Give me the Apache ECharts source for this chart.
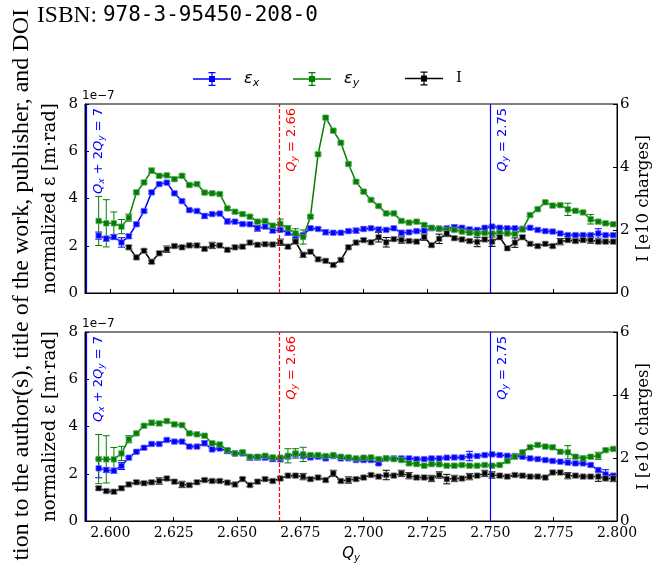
<!DOCTYPE html>
<html>
<head>
<meta charset="utf-8">
<script src="https://cdn.jsdelivr.net/npm/echarts@6/dist/echarts.min.js"></script>
<style>
  html, body { margin: 0; padding: 0; background: #fff; }
  #chart { width: 661px; height: 563px; }
</style>
</head>
<body>
<div id="chart"></div>
<script>
// Vertical tune Q_y of each measurement point (shared by both panels)
const qy = [
  2.5954, 2.5984, 2.6014, 2.6044, 2.6073, 2.6103, 2.6133, 2.6163, 2.6193, 2.6223,
  2.6253, 2.6283, 2.6312, 2.6342, 2.6372, 2.6402, 2.6432, 2.6462, 2.6492, 2.6522,
  2.6551, 2.6581, 2.6611, 2.6641, 2.6671, 2.6701, 2.6731, 2.6761, 2.6790, 2.6820,
  2.6850, 2.6880, 2.6910, 2.6940, 2.6970, 2.7000, 2.7029, 2.7059, 2.7089, 2.7119,
  2.7149, 2.7179, 2.7209, 2.7239, 2.7268, 2.7298, 2.7328, 2.7358, 2.7388, 2.7418,
  2.7448, 2.7478, 2.7507, 2.7537, 2.7567, 2.7597, 2.7627, 2.7657, 2.7687, 2.7717,
  2.7746, 2.7776, 2.7806, 2.7836, 2.7866, 2.7896, 2.7926, 2.7955, 2.7985
];

// Axis tick values
const xTicks = [2.600, 2.625, 2.650, 2.675, 2.700, 2.725, 2.750, 2.775, 2.800];
const epsRange = [0, 8];      // normalized emittance, units of 1e-7 m·rad
const chargeRange = [0, 6];   // bunch intensity, units of 1e10 charges

// Upper panel: emittances (1e-7 m·rad) and intensity (1e10 charges)
const epsXTop = [
  2.43, 2.30, 2.37, 2.14, 2.40, 2.91, 3.47, 4.26, 4.61, 4.67,
  4.22, 3.89, 3.51, 3.47, 3.26, 3.34, 3.36, 3.03, 3.02, 2.92,
  2.91, 2.74, 2.81, 2.64, 2.67, 2.55, 2.41, 2.45, 2.74, 2.71,
  2.57, 2.55, 2.55, 2.62, 2.64, 2.71, 2.74, 2.69, 2.67, 2.74,
  2.55, 2.57, 2.62, 2.64, 2.74, 2.71, 2.74, 2.78, 2.76, 2.69,
  2.67, 2.76, 2.81, 2.76, 2.74, 2.74, 2.72, 2.76, 2.67, 2.62,
  2.60, 2.52, 2.45, 2.45, 2.45, 2.45, 2.52, 2.45, 2.45
];
const epsXTopErr = [
  0.15, 0.10, 0.10, 0.20, 0.08, 0.05, 0.05, 0.05, 0.05, 0.05,
  0.05, 0.05, 0.05, 0.05, 0.10, 0.05, 0.05, 0.10, 0.05, 0.05,
  0.05, 0.12, 0.08, 0.08, 0.05, 0.10, 0.10, 0.05, 0.05, 0.05,
  0.10, 0.05, 0.05, 0.05, 0.10, 0.08, 0.05, 0.08, 0.05, 0.05,
  0.10, 0.05, 0.05, 0.05, 0.08, 0.05, 0.05, 0.10, 0.05, 0.05,
  0.05, 0.05, 0.05, 0.05, 0.05, 0.05, 0.05, 0.05, 0.05, 0.05,
  0.05, 0.05, 0.05, 0.05, 0.05, 0.05, 0.20, 0.05, 0.05
];
const epsYTop = [
  3.05, 2.95, 2.95, 2.81, 3.19, 4.26, 4.68, 5.18, 4.96, 4.98,
  4.82, 4.96, 4.57, 4.61, 4.25, 4.22, 4.19, 3.58, 3.44, 3.34,
  3.23, 3.02, 3.05, 2.85, 2.93, 2.74, 2.52, 2.37, 3.23, 5.87,
  7.42, 6.87, 6.36, 5.46, 4.71, 4.29, 3.94, 3.68, 3.37, 3.37,
  3.05, 2.98, 3.02, 2.88, 2.76, 2.73, 2.67, 2.67, 2.60, 2.55,
  2.52, 2.55, 2.52, 2.55, 2.52, 2.50, 2.69, 3.30, 3.55, 3.84,
  3.70, 3.72, 3.54, 3.48, 3.41, 3.12, 3.02, 2.95, 2.91
];
const epsYTopErr = [
  1.04, 1.00, 0.48, 0.30, 0.15, 0.06, 0.06, 0.10, 0.05, 0.05,
  0.05, 0.05, 0.05, 0.05, 0.05, 0.05, 0.05, 0.05, 0.05, 0.05,
  0.05, 0.05, 0.05, 0.05, 0.20, 0.10, 0.20, 0.30, 0.05, 0.05,
  0.05, 0.05, 0.05, 0.05, 0.05, 0.05, 0.05, 0.05, 0.05, 0.05,
  0.05, 0.05, 0.05, 0.05, 0.05, 0.05, 0.05, 0.05, 0.05, 0.05,
  0.05, 0.05, 0.05, 0.05, 0.05, 0.05, 0.05, 0.05, 0.05, 0.05,
  0.05, 0.05, 0.26, 0.05, 0.05, 0.20, 0.05, 0.05, 0.05
];
const intTop = [
  null, null, null, null, 1.45, 1.13, 1.34, 0.99, 1.26, 1.39,
  1.49, 1.45, 1.51, 1.51, 1.40, 1.51, 1.51, 1.37, 1.45, 1.47,
  1.60, 1.53, 1.55, 1.54, 1.61, 1.47, 1.63, 1.21, 1.31, 1.07,
  1.02, 0.89, 1.05, 1.45, 1.60, 1.68, 1.61, 1.77, 1.61, 1.71,
  1.68, 1.65, 1.63, 1.77, 1.52, 1.72, 1.89, 1.74, 1.70, 1.65,
  1.62, 1.70, 1.63, 1.77, 1.42, 1.60, 1.77, 1.56, 1.49, 1.56,
  1.49, 1.63, 1.68, 1.65, 1.68, 1.68, 1.63, 1.63, 1.63
];
const intTopErr = [
  0, 0, 0, 0, 0.05, 0.05, 0.05, 0.05, 0.05, 0.10,
  0.05, 0.05, 0.05, 0.05, 0.05, 0.10, 0.05, 0.05, 0.05, 0.05,
  0.05, 0.05, 0.05, 0.05, 0.10, 0.05, 0.05, 0.08, 0.05, 0.05,
  0.05, 0.05, 0.05, 0.05, 0.05, 0.05, 0.05, 0.15, 0.15, 0.05,
  0.10, 0.05, 0.05, 0.10, 0.05, 0.15, 0.10, 0.05, 0.05, 0.05,
  0.15, 0.05, 0.15, 0.05, 0.05, 0.15, 0.05, 0.05, 0.05, 0.05,
  0.05, 0.10, 0.05, 0.05, 0.05, 0.10, 0.05, 0.05, 0.05
];

// Lower panel
const epsXBot = [
  2.23, 2.16, 2.13, 2.33, 2.68, 2.93, 3.10, 3.26, 3.26, 3.43,
  3.36, 3.36, 3.15, 3.15, 3.29, 3.03, 3.07, 2.96, 2.86, 2.86,
  2.68, 2.69, 2.69, 2.62, 2.61, 2.72, 2.82, 2.75, 2.69, 2.72,
  2.65, 2.75, 2.65, 2.65, 2.58, 2.58, 2.58, 2.44, 2.65, 2.65,
  2.65, 2.65, 2.62, 2.62, 2.65, 2.65, 2.68, 2.69, 2.69, 2.75,
  2.75, 2.79, 2.82, 2.79, 2.76, 2.75, 2.72, 2.65, 2.62, 2.58,
  2.54, 2.51, 2.47, 2.44, 2.44, 2.37, 2.16, 1.97, 1.92
];
const epsXBotErr = [
  0.40, 0.10, 0.10, 0.15, 0.05, 0.05, 0.05, 0.05, 0.05, 0.05,
  0.05, 0.05, 0.05, 0.05, 0.10, 0.05, 0.05, 0.10, 0.05, 0.05,
  0.10, 0.10, 0.10, 0.08, 0.08, 0.05, 0.05, 0.05, 0.05, 0.05,
  0.05, 0.05, 0.05, 0.05, 0.05, 0.05, 0.05, 0.05, 0.05, 0.05,
  0.05, 0.05, 0.05, 0.05, 0.05, 0.05, 0.05, 0.05, 0.05, 0.20,
  0.05, 0.05, 0.05, 0.05, 0.05, 0.05, 0.05, 0.05, 0.05, 0.05,
  0.05, 0.05, 0.05, 0.05, 0.05, 0.05, 0.05, 0.20, 0.05
];
const epsYBot = [
  2.62, 2.61, 2.61, 2.86, 3.46, 3.71, 4.03, 4.16, 4.13, 4.23,
  4.09, 4.06, 3.71, 3.67, 3.61, 3.29, 3.24, 3.00, 2.86, 2.91,
  2.72, 2.72, 2.76, 2.69, 2.68, 2.76, 2.86, 2.82, 2.79, 2.79,
  2.75, 2.79, 2.72, 2.69, 2.65, 2.68, 2.69, 2.62, 2.65, 2.62,
  2.58, 2.44, 2.41, 2.34, 2.41, 2.40, 2.34, 2.34, 2.37, 2.34,
  2.34, 2.37, 2.34, 2.37, 2.54, 2.72, 2.91, 3.12, 3.22, 3.15,
  3.12, 2.93, 2.91, 2.72, 2.65, 2.72, 2.76, 3.00, 3.05
];
const epsYBotErr = [
  1.04, 1.00, 0.50, 0.30, 0.15, 0.05, 0.05, 0.10, 0.08, 0.05,
  0.05, 0.05, 0.05, 0.05, 0.05, 0.05, 0.05, 0.05, 0.05, 0.05,
  0.05, 0.05, 0.05, 0.05, 0.05, 0.30, 0.20, 0.30, 0.05, 0.05,
  0.05, 0.05, 0.05, 0.05, 0.05, 0.05, 0.05, 0.05, 0.05, 0.05,
  0.05, 0.05, 0.05, 0.05, 0.05, 0.05, 0.05, 0.05, 0.05, 0.05,
  0.05, 0.05, 0.05, 0.05, 0.05, 0.05, 0.05, 0.05, 0.05, 0.05,
  0.05, 0.05, 0.28, 0.05, 0.10, 0.05, 0.15, 0.05, 0.05
];
const intBot = [
  1.04, 0.95, 0.93, 1.04, 1.16, 1.23, 1.20, 1.23, 1.27, 1.35,
  1.25, 1.16, 1.14, 1.23, 1.30, 1.27, 1.27, 1.22, 1.16, 1.33,
  1.14, 1.25, 1.33, 1.27, 1.35, 1.44, 1.44, 1.41, 1.33, 1.38,
  1.30, 1.51, 1.27, 1.30, 1.33, 1.38, 1.46, 1.41, 1.46, 1.44,
  1.51, 1.44, 1.38, 1.38, 1.35, 1.46, 1.33, 1.35, 1.35, 1.41,
  1.44, 1.51, 1.46, 1.44, 1.41, 1.46, 1.44, 1.41, 1.41, 1.38,
  1.54, 1.54, 1.44, 1.44, 1.41, 1.41, 1.41, 1.35, 1.35
];
const intBotErr = [
  0.05, 0.05, 0.05, 0.05, 0.05, 0.05, 0.05, 0.05, 0.10, 0.05,
  0.05, 0.10, 0.05, 0.05, 0.05, 0.05, 0.05, 0.05, 0.05, 0.05,
  0.05, 0.05, 0.05, 0.05, 0.05, 0.05, 0.05, 0.10, 0.05, 0.05,
  0.05, 0.10, 0.05, 0.10, 0.05, 0.05, 0.05, 0.05, 0.15, 0.05,
  0.10, 0.10, 0.05, 0.05, 0.10, 0.10, 0.15, 0.10, 0.05, 0.10,
  0.05, 0.10, 0.10, 0.05, 0.05, 0.05, 0.05, 0.05, 0.05, 0.05,
  0.05, 0.05, 0.10, 0.05, 0.05, 0.05, 0.15, 0.05, 0.10
];

// Resonance lines drawn in both panels
const resonanceQ = [2.5905, 2.6667, 2.75];
const resonanceText = [
  '{q|Q}{s|x}{n| + 2}{q|Q}{s|y}{n| = 7}',
  '{q|Q}{s|y}{n| = 2.66}',
  '{q|Q}{s|y}{n| = 2.75}'
];
const resonanceColor = ['#0000ff', '#ff0000', '#0000ff'];
const resonanceDashed = [false, true, false];

const BLUE = '#0000ff', GREEN = '#008000', BLACK = '#000000';
const SERIF = 'DejaVu Serif', SANS = 'DejaVu Sans';

const chart = echarts.init(document.getElementById('chart'), null, { renderer: 'canvas' });

function pairs(vals) { return qy.map((q, i) => [q, vals[i]]); }

function errorBars(vals, errs, color, xi, yi) {
  const data = [];
  qy.forEach((q, i) => { if (vals[i] != null && errs[i] > 0) data.push([q, vals[i], errs[i]]); });
  return {
    type: 'custom', xAxisIndex: xi, yAxisIndex: yi, silent: true, z: 3,
    data, encode: { x: 0, y: 1 },
    renderItem(params, api) {
      const x = api.value(0), y = api.value(1), e = api.value(2);
      const a = api.coord([x, y + e]), b = api.coord([x, y - e]);
      const w = 3.5, st = { stroke: color, lineWidth: 1 };
      return {
        type: 'group', children: [
          { type: 'line', shape: { x1: a[0], y1: a[1], x2: b[0], y2: b[1] }, style: st },
          { type: 'line', shape: { x1: a[0] - w, y1: a[1], x2: a[0] + w, y2: a[1] }, style: st },
          { type: 'line', shape: { x1: b[0] - w, y1: b[1], x2: b[0] + w, y2: b[1] }, style: st }
        ]
      };
    }
  };
}

function lineSeries(name, vals, color, edge, xi, yi, extra) {
  return Object.assign({
    type: 'line', name, xAxisIndex: xi, yAxisIndex: yi, data: pairs(vals),
    symbol: 'rect', symbolSize: 5.5, showSymbol: true, connectNulls: false, z: 4,
    lineStyle: { color, width: 1.5 },
    itemStyle: { color, borderColor: edge, borderWidth: 0.8 },
    emphasis: { disabled: true }
  }, extra || {});
}

function guideLines() {
  const labelRich = c => ({
    q: { fontFamily: SANS, fontStyle: 'italic', fontSize: 13, color: c, lineHeight: 16 },
    s: { fontFamily: SANS, fontStyle: 'italic', fontSize: 9, color: c, verticalAlign: 'bottom', lineHeight: 16 },
    n: { fontFamily: SANS, fontSize: 13, color: c, lineHeight: 16 }
  });
  return {
    silent: true, symbol: ['none', 'none'], animation: false,
    data: resonanceQ.map((q, k) => [
      {
        coord: [q, epsRange[0]],
        lineStyle: { color: resonanceColor[k], width: 1.2, type: resonanceDashed[k] ? [4, 2] : 'solid' },
        label: {
          show: true, position: 'insideEndBottom', distance: 4,
          formatter: resonanceText[k], color: resonanceColor[k], rich: labelRich(resonanceColor[k])
        }
      },
      { coord: [q, epsRange[1]] }
    ])
  };
}

const grids = [
  { left: 85, right: 44, top: 104, height: 189 },
  { left: 85, right: 44, top: 332, height: 189 }
].map(g => Object.assign(g, {
  show: true, borderColor: '#000', borderWidth: 1, backgroundColor: 'transparent',
  containLabel: false, outerBoundsMode: 'none'
}));

const tickStyle = { show: true, inside: true, length: 4, lineStyle: { color: '#000', width: 1 } };
const lineStyleAxis = { show: true, onZero: false, lineStyle: { color: '#000', width: 1 } };

const xAxes = [0, 1].map(g => ({
  gridIndex: g, type: 'value', min: 2.59, max: 2.80,
  axisLine: lineStyleAxis,
  axisTick: Object.assign({ customValues: xTicks }, tickStyle),
  axisLabel: {
    show: g === 1, customValues: xTicks, margin: 5,
    formatter: v => v.toFixed(3), fontFamily: SERIF, fontSize: 14, color: '#000'
  },
  splitLine: { show: false },
  name: g === 1 ? '{q|Q}{s|y}' : '',
  nameLocation: 'middle', nameGap: 24, nameMoveOverlap: false,
  nameTextStyle: {
    rich: {
      q: { fontFamily: SANS, fontStyle: 'italic', fontSize: 15, color: '#000', lineHeight: 18 },
      s: { fontFamily: SANS, fontStyle: 'italic', fontSize: 10, color: '#000', verticalAlign: 'bottom', lineHeight: 18 }
    }
  }
}));

const yAxes = [];
[0, 1].forEach(g => {
  yAxes.push({
    gridIndex: g, type: 'value', position: 'left', min: epsRange[0], max: epsRange[1], interval: 2,
    axisLine: lineStyleAxis, axisTick: tickStyle,
    axisLabel: { margin: 7, fontFamily: SERIF, fontSize: 15, color: '#000' },
    splitLine: { show: false },
    name: 'normalized ε [m·rad]', nameLocation: 'middle', nameGap: 26, nameMoveOverlap: false,
    nameTextStyle: { fontFamily: SERIF, fontSize: 18, color: '#000' }
  });
  yAxes.push({
    gridIndex: g, type: 'value', position: 'right', min: chargeRange[0], max: chargeRange[1], interval: 2,
    axisLine: lineStyleAxis, axisTick: tickStyle,
    axisLabel: { margin: 3, fontFamily: SERIF, fontSize: 15, color: '#000' },
    splitLine: { show: false },
    name: 'I [e10 charges]', nameLocation: 'middle', nameGap: 18, nameMoveOverlap: false,
    nameTextStyle: { fontFamily: SERIF, fontSize: 16.5, color: '#000' }
  });
});

const errIcon = 'path://M0,6.3L38,6.3L38,7.7L0,7.7Z M18.4,0L19.6,0L19.6,14L18.4,14Z M15.5,0L22.5,0L22.5,1.2L15.5,1.2Z M15.5,12.8L22.5,12.8L22.5,14L15.5,14Z M16,4L22,4L22,10L16,10Z';
const legendText = { 'εx': '{e|ε}{s|x}', 'εy': '{e|ε}{s|y}', 'I': '{i|I}' };
const legendLeft = { 'εx': 193, 'εy': 293, 'I': 405 };
const legendColor = { 'εx': BLUE, 'εy': GREEN, 'I': BLACK };
const legendRich = {
  e: { fontFamily: SANS, fontStyle: 'italic', fontSize: 16, color: '#000', lineHeight: 20 },
  s: { fontFamily: SANS, fontStyle: 'italic', fontSize: 11, color: '#000', verticalAlign: 'bottom', lineHeight: 20 },
  i: { fontFamily: SERIF, fontSize: 15, color: '#000', lineHeight: 20 }
};

const series = [];
[[epsXTop, epsXTopErr, epsYTop, epsYTopErr, intTop, intTopErr],
 [epsXBot, epsXBotErr, epsYBot, epsYBotErr, intBot, intBotErr]].forEach((p, g) => {
  const yl = 2 * g, yr = 2 * g + 1;
  series.push(errorBars(p[0], p[1], BLUE, g, yl));
  series.push(lineSeries('εx', p[0], BLUE, 'rgba(110,110,255,0.9)', g, yl, { markLine: guideLines() }));
  series.push(errorBars(p[2], p[3], GREEN, g, yl));
  series.push(lineSeries('εy', p[2], GREEN, 'rgba(100,170,100,0.9)', g, yl));
  series.push(errorBars(p[4], p[5], BLACK, g, yr));
  series.push(lineSeries('I', p[4], BLACK, 'rgba(140,140,140,0.9)', g, yr));
});

chart.setOption({
  animation: false,
  backgroundColor: '#fff',
  grid: grids,
  xAxis: xAxes,
  yAxis: yAxes,
  legend: Object.keys(legendText).map(n => ({
    data: [n], left: legendLeft[n], top: 71, padding: 0,
    itemWidth: 38, itemHeight: 17, icon: errIcon, selectedMode: false,
    itemStyle: { color: legendColor[n], borderWidth: 0, opacity: 1 },
    formatter: name => legendText[name],
    textStyle: { rich: legendRich, padding: [0, 0, 0, 8] }
  })),
  graphic: [
    {
      type: 'text', left: 37, top: 4,
      style: {
        text: '{a|ISBN: }{b|978-3-95450-208-0}',
        rich: {
          a: { fontFamily: 'Liberation Serif', fontSize: 23.5, fill: '#000' },
          b: { fontFamily: 'DejaVu Sans Mono', fontSize: 21, fill: '#000' }
        }
      }
    },
    {
      type: 'text', x: 34, y: 9, rotation: Math.PI / 2,
      style: {
        text: 'tion to the author(s), title of the work, publisher, and DOI',
        fontFamily: 'Liberation Serif', fontSize: 24, fill: '#000',
        align: 'right', verticalAlign: 'bottom'
      }
    },
    { type: 'text', left: 82, top: 90, style: { text: '1e\u22127', fontFamily: SANS, fontSize: 12, fill: '#000' } },
    { type: 'text', left: 82, top: 318, style: { text: '1e\u22127', fontFamily: SANS, fontSize: 12, fill: '#000' } }
  ],
  series
});
</script>
</body>
</html>
